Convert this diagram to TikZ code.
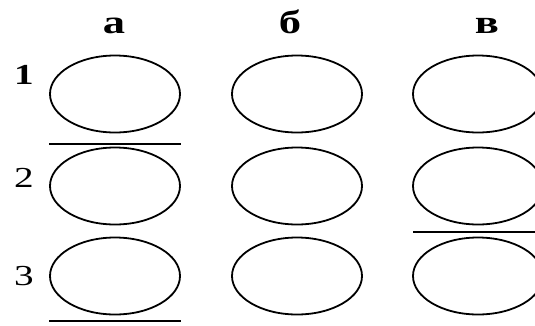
\documentclass[tikz,border=0pt]{standalone}
\usepackage{fontspec}
\setmainfont{Liberation Serif}
\usetikzlibrary{shapes.geometric}
\begin{document}
\begin{tikzpicture}[x=1pt,y=-1pt,
  cell/.style={draw=black,line width=1.8pt,ellipse,minimum width=130pt,minimum height=77pt,inner sep=0pt},
  bar/.style={line width=1.8pt},
  collabel/.style={font=\fontsize{33}{33}\selectfont\bfseries,inner sep=0pt,xscale=1.35},
  rowlabel/.style={font=\fontsize{29}{29}\selectfont,inner sep=0pt,xscale=1.35}]
\useasboundingbox (0,0) rectangle (535,325);
\clip (0,0) rectangle (535,325);
% column labels
\node[collabel] (la) at (114,26) {а};
\node[collabel] (lb) at (290,22) {б};
\node[collabel] (lc) at (487,26) {в};
% row labels
\node[rowlabel] (r1) at (24,75) {\bfseries 1};
\node[rowlabel] (r2) at (24,178) {2};
\node[rowlabel] (r3) at (24,276) {3};
% ellipses
\node[cell] (a1) at (115,94) {};
\node[cell] (b1) at (297,94) {};
\node[cell] (c1) at (478,94) {};
\node[cell] (a2) at (115,186) {};
\node[cell] (b2) at (297,186) {};
\node[cell] (c2) at (478,186) {};
\node[cell] (a3) at (115,276) {};
\node[cell] (b3) at (297,276) {};
\node[cell] (c3) at (478,276) {};
% bars
\coordinate (p1) at (49,144);
\coordinate (p2) at (181,144);
\coordinate (q1) at (413,232);
\coordinate (q2) at (540,232);
\coordinate (s1) at (49,321);
\coordinate (s2) at (181,321);
\draw[bar] (p1) -- (p2);
\draw[bar] (q1) -- (q2);
\draw[bar] (s1) -- (s2);
\end{tikzpicture}
\end{document}
